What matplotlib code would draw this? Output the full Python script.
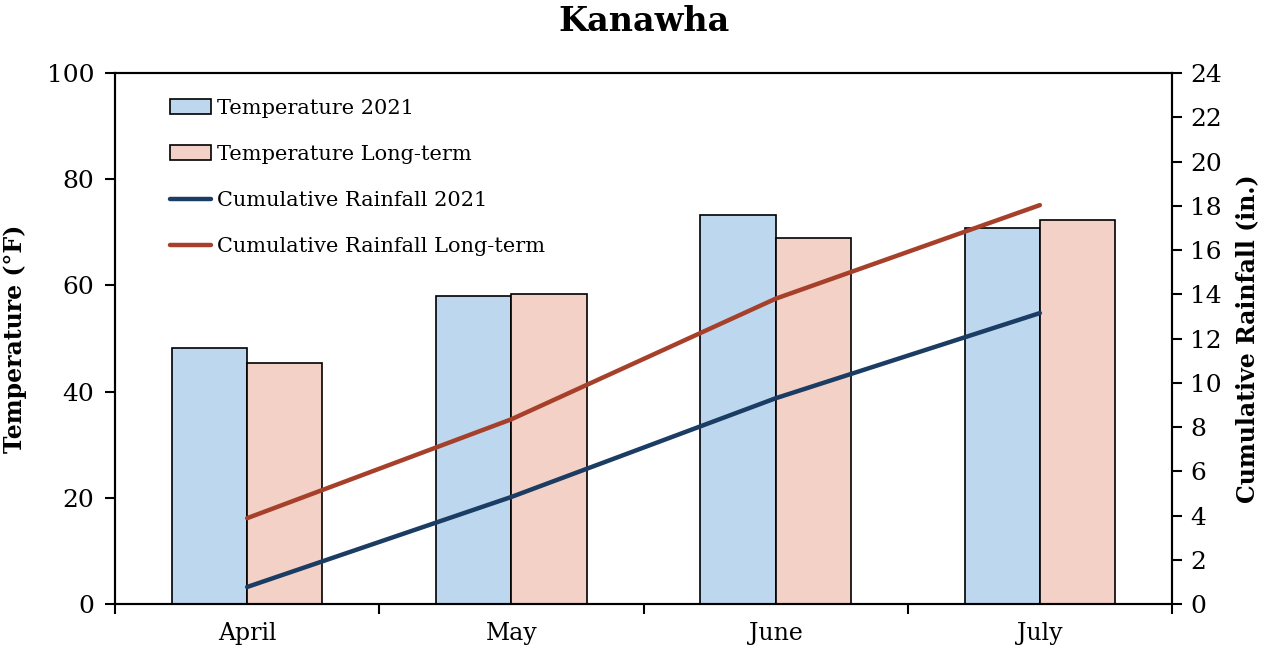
import numpy as np
import matplotlib.pyplot as plt
from matplotlib.ticker import MultipleLocator, FixedLocator

months = ['April', 'May', 'June', 'July']
temp_2021 = [48.3, 58.0, 73.3, 70.9]
temp_longterm = [45.4, 58.4, 68.9, 72.3]
rain_2021 = [0.77, 4.84, 9.3, 13.15]
rain_longterm = [3.88, 8.35, 13.8, 18.03]

plt.rcParams['font.family'] = 'DejaVu Serif'

fig = plt.figure(figsize=(12.71, 6.52), dpi=100)
ax = fig.add_axes([0.0905, 0.0736, 0.8316, 0.8144])

x = np.arange(len(months))
w = 0.285

# Temperature bars
ax.bar(x - w / 2, temp_2021, w, color='#BDD7EE', edgecolor='black', linewidth=1.2,
       label='Temperature 2021', zorder=2)
ax.bar(x + w / 2, temp_longterm, w, color='#F4D1C7', edgecolor='black', linewidth=1.2,
       label='Temperature Long-term', zorder=2)

ax.set_xlim(-0.5, 3.5)
ax.set_ylim(0, 100)
ax.yaxis.set_major_locator(MultipleLocator(20))
ax.set_xticks(x)
ax.set_xticklabels(months)
ax.xaxis.set_minor_locator(FixedLocator([-0.5, 0.5, 1.5, 2.5, 3.5]))
ax.tick_params(axis='x', which='major', length=0, labelsize=17, pad=13)
ax.tick_params(axis='x', which='minor', length=7, width=1.5, direction='out')
ax.tick_params(axis='y', labelsize=18, length=7, width=1.5, direction='out', pad=8)
for s in ax.spines.values():
    s.set_linewidth(1.5)
ax.set_ylabel('Temperature (°F)', fontsize=17, fontweight='bold')
ax.yaxis.set_label_coords(-0.083, 0.5)

# Cumulative rainfall lines
ax2 = ax.twinx()
ax2.plot(x, rain_2021, color='#1B3C63', linewidth=3.2, label='Cumulative Rainfall 2021',
         solid_capstyle='round')
ax2.plot(x, rain_longterm, color='#A6402A', linewidth=3.2, label='Cumulative Rainfall Long-term',
         solid_capstyle='round')
ax2.set_ylim(0, 24)
ax2.yaxis.set_major_locator(MultipleLocator(2))
ax2.tick_params(axis='y', labelsize=18, length=7, width=1.5, direction='out', pad=6)
for s in ax2.spines.values():
    s.set_linewidth(1.5)
ax2.set_ylabel('Cumulative Rainfall (in.)', fontsize=17, fontweight='bold', labelpad=10)

h1, l1 = ax.get_legend_handles_labels()
h2, l2 = ax2.get_legend_handles_labels()
ax.legend(h1 + h2, l1 + l2, loc='upper left', bbox_to_anchor=(0.04, 0.975), frameon=False,
          fontsize=15, handlelength=2.0, handletextpad=0.25, labelspacing=1.3,
          borderaxespad=0.2)

ax.set_title('Kanawha', fontsize=24, fontweight='bold', pad=30)

fig.savefig('out.png', dpi=100)
